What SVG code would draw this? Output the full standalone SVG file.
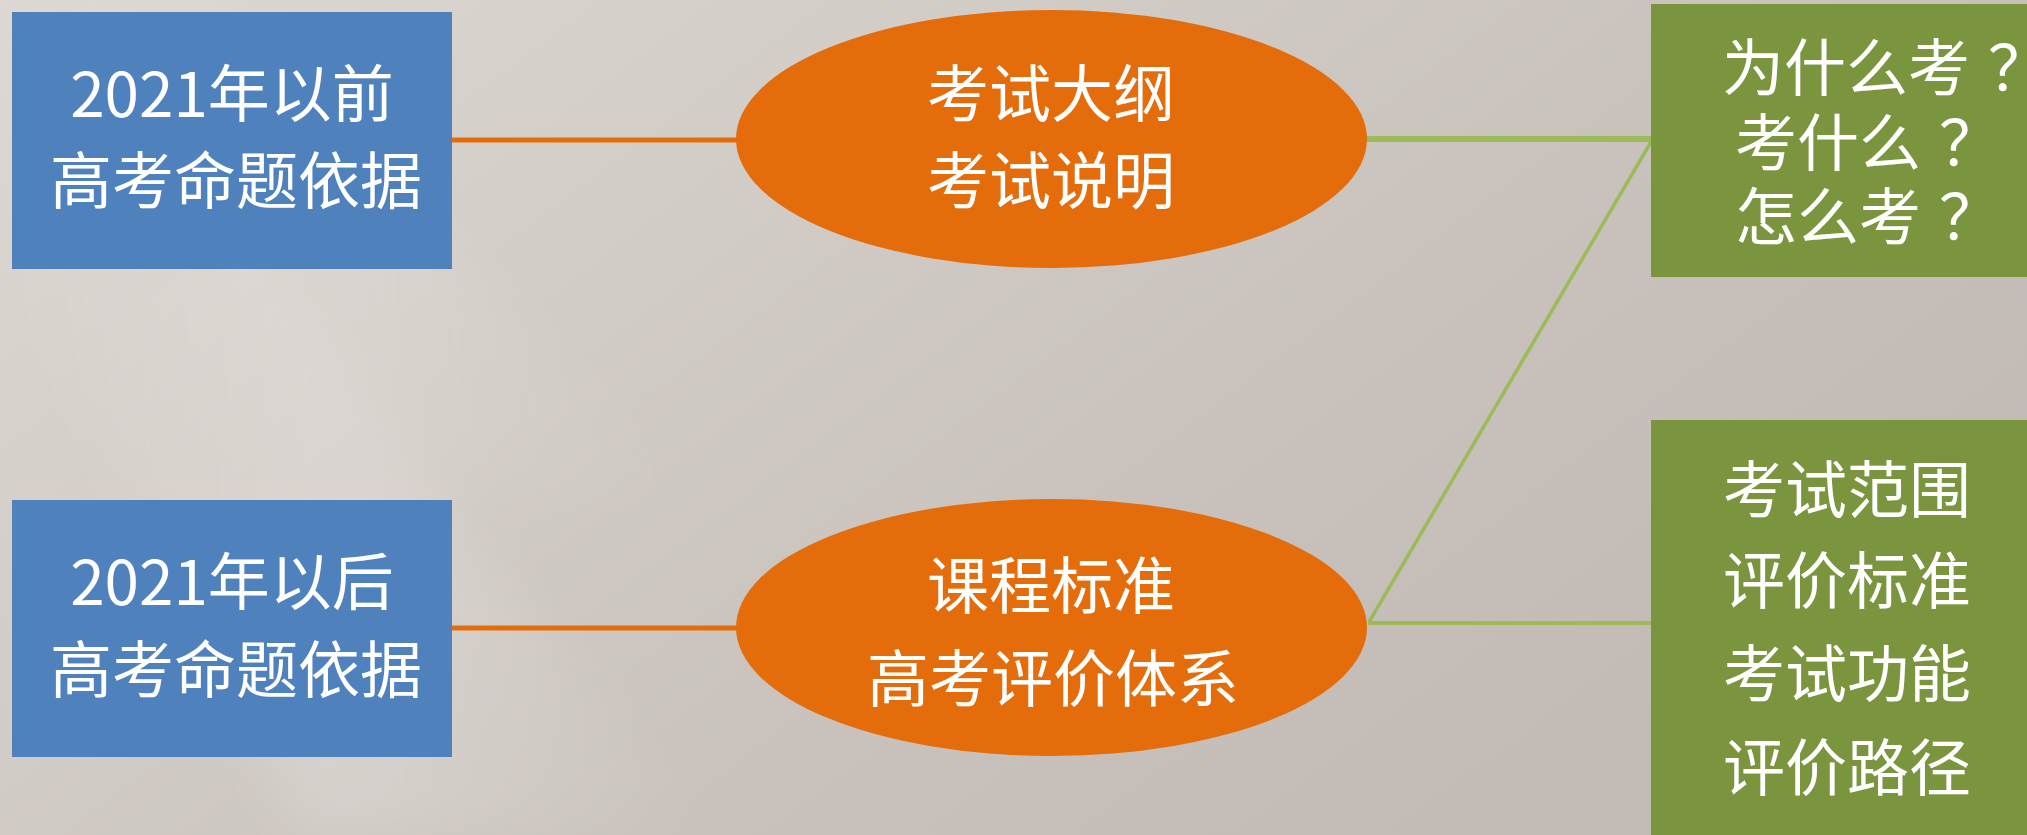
<svg xmlns="http://www.w3.org/2000/svg" width="2027" height="835" viewBox="0 0 2027 835">
<defs>
<linearGradient id="bg" x1="0" y1="0" x2="1" y2="0.55">
<stop offset="0" stop-color="#ddd8d3"/>
<stop offset="0.35" stop-color="#d3cdc7"/>
<stop offset="0.7" stop-color="#c9c2bc"/>
<stop offset="1" stop-color="#c2bbb5"/>
</linearGradient>
<linearGradient id="streak" x1="0" y1="0" x2="1" y2="0">
<stop offset="0" stop-color="#ffffff" stop-opacity="0"/>
<stop offset="0.5" stop-color="#ffffff" stop-opacity="0.18"/>
<stop offset="1" stop-color="#ffffff" stop-opacity="0"/>
</linearGradient>
<filter id="soft" x="-20%" y="-20%" width="140%" height="140%"><feGaussianBlur stdDeviation="25"/></filter>
</defs>
<style>
.box{fill:#4f81bd}
.ell{fill:#e46c0a}
.grn{fill:#7a953d}
.t{font-family:"Noto Sans CJK SC","Noto Sans",sans-serif;font-size:62px;fill:#ffffff}
.m{text-anchor:middle}
.ol{stroke:#e46c0a;stroke-width:5;fill:none}
.gl{stroke:#9bbb59;fill:none}
</style>
<rect id="background" x="0" y="0" width="2027" height="835" fill="url(#bg)"/>
<g id="streaks" filter="url(#soft)">
<polygon points="0,250 250,250 700,835 300,835" fill="url(#streak)"/>
<polygon points="0,0 200,0 700,500 450,500" fill="url(#streak)" opacity="0.6"/>
</g>
<g id="connectors">
<line class="ol" x1="451" y1="140" x2="738" y2="140"/>
<line class="ol" x1="451" y1="628" x2="738" y2="628"/>
<line class="gl" stroke-width="6" x1="1366" y1="139" x2="1652" y2="139"/>
<line class="gl" stroke-width="3.5" x1="1651" y1="142" x2="1369" y2="622"/>
<line class="gl" stroke-width="4" x1="1368" y1="623" x2="1652" y2="623"/>
</g>
<g id="node-before">
<rect class="box" x="12" y="12" width="440" height="257"/>
<text class="t m" x="232" y="117">2021年以前</text>
<text class="t m" x="236" y="204">高考命题依据</text>
</g>
<g id="node-after">
<rect class="box" x="12" y="500" width="440" height="257"/>
<text class="t m" x="232" y="605">2021年以后</text>
<text class="t m" x="236" y="693">高考命题依据</text>
</g>
<g id="node-outline">
<ellipse class="ell" cx="1051.5" cy="139" rx="315.5" ry="129"/>
<text class="t m" x="1051" y="117">考试大纲</text>
<text class="t m" x="1051" y="204">考试说明</text>
</g>
<g id="node-standard">
<ellipse class="ell" cx="1051.5" cy="627.5" rx="315.5" ry="128.5"/>
<text class="t m" x="1051" y="609">课程标准</text>
<text class="t m" x="1053" y="702">高考评价体系</text>
</g>
<g id="node-questions">
<rect class="grn" x="1651" y="4" width="380" height="273"/>
<text class="t" x="1722" y="91">为什么考<tspan dx="18">？</tspan></text>
<text class="t" x="1735" y="166">考什么<tspan dx="18">？</tspan></text>
<text class="t" x="1735" y="240">怎么考<tspan dx="18">？</tspan></text>
</g>
<g id="node-aspects">
<rect class="grn" x="1651" y="420" width="380" height="420"/>
<text class="t m" x="1847" y="513">考试范围</text>
<text class="t m" x="1847" y="604">评价标准</text>
<text class="t m" x="1847" y="697">考试功能</text>
<text class="t m" x="1847" y="791">评价路径</text>
</g>
</svg>
